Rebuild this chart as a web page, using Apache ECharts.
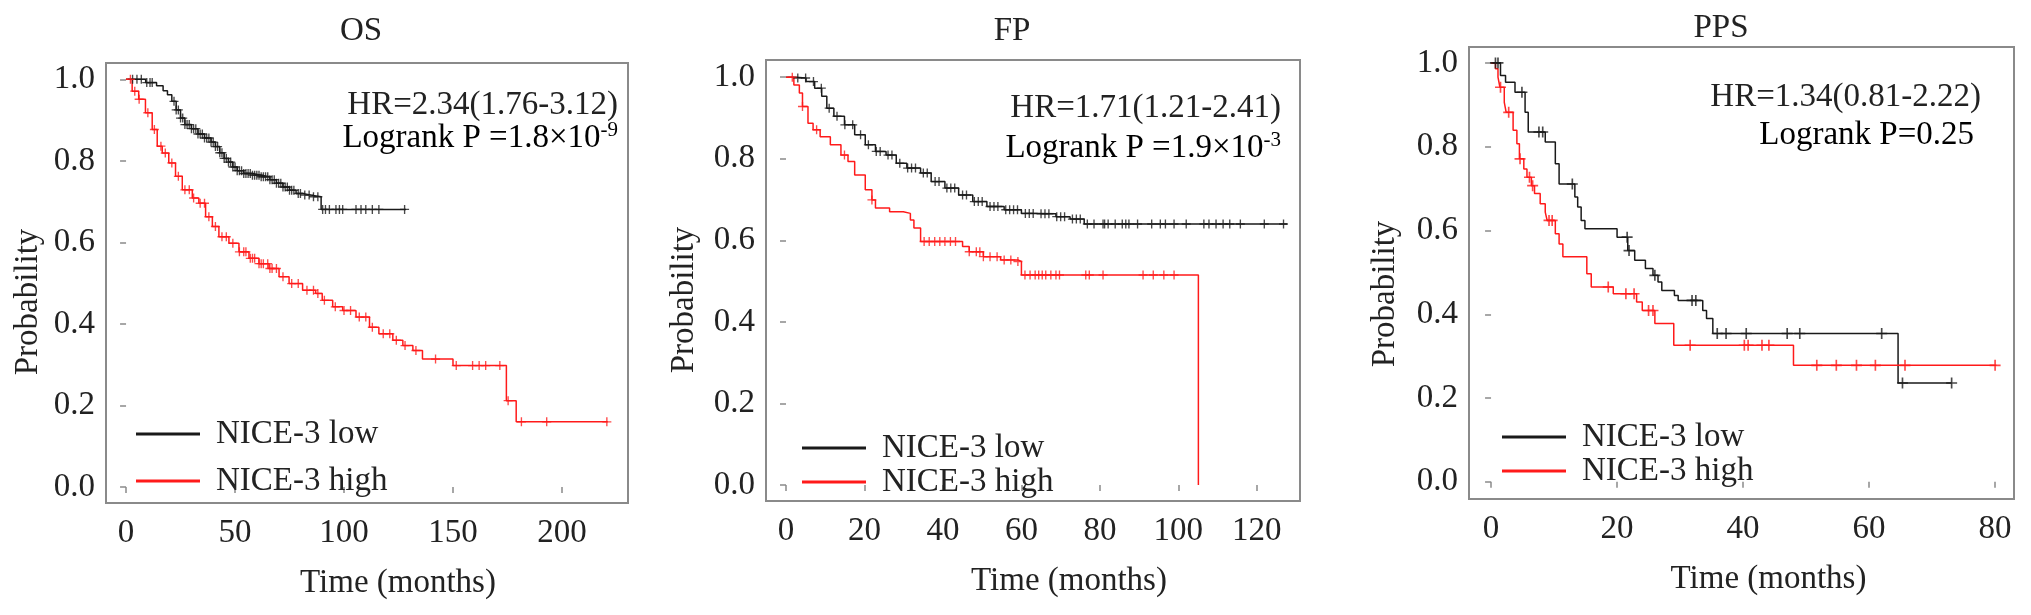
<!DOCTYPE html>
<html>
<head>
<meta charset="utf-8">
<script src="https://cdn.jsdelivr.net/npm/echarts@6/dist/echarts.min.js"></script>
<style>
  html, body { margin: 0; padding: 0; background: #fff; }
  #chart { width: 2031px; height: 615px; }
</style>
</head>
<body>
<div id="chart"></div>
<script>
// ---- data (months, survival probability) ----
const osLowTime = [0, 9, 14, 17, 19, 21, 23, 25, 27, 30, 33, 36, 39, 41, 43, 45, 47, 49, 51, 54, 58, 62, 66, 69, 72, 75, 78, 81, 85, 89.5, 128.5];
const osLowSurv = [1, 0.992, 0.984, 0.972, 0.962, 0.946, 0.925, 0.905, 0.889, 0.879, 0.866, 0.856, 0.846, 0.835, 0.82, 0.806, 0.797, 0.785, 0.776, 0.769, 0.765, 0.761, 0.754, 0.745, 0.736, 0.728, 0.72, 0.716, 0.712, 0.681, 0.681];
const osLowCens = [3, 5, 7, 9.5, 11, 12, 22, 23, 24, 25, 26, 27, 28, 29, 30, 31, 32, 33, 34, 35, 36, 37, 38, 39, 40, 41, 42, 43, 44, 45, 46, 47, 48, 49, 50, 51, 52, 53, 54, 55, 56, 57, 58, 59, 60, 61, 62, 63, 64, 65, 66, 67, 68, 69, 70, 71, 72, 73, 74, 75, 76, 77, 79, 80, 82, 84, 86, 88, 90.2, 91.5, 93.3, 96.3, 97.9, 99.4, 105.5, 107.8, 110, 113, 116, 127.8];

const osHighTime = [0, 2.8, 5.8, 8.9, 12, 14.3, 16.6, 19.6, 22.7, 25.8, 30.4, 33.4, 36.5, 39.6, 42.6, 47.2, 51.8, 56.4, 61, 65.6, 70.2, 74.8, 81, 87, 90, 94.8, 99.4, 105.5, 111.7, 116, 122.4, 127, 131.6, 136, 150, 174.5, 179, 221];
const osHighSurv = [1, 0.971, 0.951, 0.918, 0.877, 0.836, 0.819, 0.795, 0.762, 0.729, 0.709, 0.696, 0.663, 0.639, 0.614, 0.598, 0.577, 0.561, 0.548, 0.536, 0.516, 0.499, 0.483, 0.475, 0.458, 0.442, 0.433, 0.417, 0.392, 0.376, 0.36, 0.347, 0.335, 0.314, 0.298, 0.212, 0.16, 0.16];
const osHighCens = [2, 4, 6, 10, 13, 16, 18, 21, 24, 27, 29, 31, 34, 36, 38, 41, 44, 46, 49, 52, 54, 55, 57, 58, 59, 61, 62, 63, 65, 66, 67, 69, 72, 76, 79, 83, 86, 88, 91, 96, 100, 103, 107, 110, 113, 118, 121, 124, 128, 133, 142, 151.5, 159, 162, 165, 171.5, 175.3, 181.4, 193, 220.6];

const fpLowTime = [0, 2.5, 5.1, 7.3, 9.1, 10.4, 12.2, 14.9, 17.5, 20.2, 22.8, 25.5, 28.1, 30.8, 34.3, 37, 40.5, 44, 47.6, 51.2, 55.6, 60, 64.4, 68.8, 72.4, 76, 127.7];
const fpLowSurv = [1, 0.998, 0.989, 0.973, 0.953, 0.924, 0.904, 0.883, 0.859, 0.834, 0.818, 0.809, 0.789, 0.777, 0.765, 0.744, 0.728, 0.711, 0.695, 0.683, 0.675, 0.666, 0.665, 0.658, 0.652, 0.64, 0.64];
const fpLowCens = [3, 5, 7, 9, 11, 13, 15, 17, 19, 21, 23, 24, 26, 27, 29, 31, 32, 33, 35, 36, 38, 39, 41, 42, 43, 45, 46, 48, 49, 50, 52, 53, 54, 56, 57, 58, 59, 61, 62, 63, 65, 66, 67, 69, 70, 71, 73, 74, 75, 76.8, 78.5, 80.8, 81.2, 82.1, 83.9, 85.7, 86.6, 87.4, 89.6, 93.2, 95.4, 96.7, 98.9, 102, 106.5, 107.8, 109.6, 111.4, 113.1, 115.8, 121.9, 126.8];

const fpHighTime = [0, 2, 3.4, 4.2, 5.6, 6.9, 8.7, 11.3, 14, 15.8, 17.5, 20.2, 21.9, 22.8, 26.4, 29.9, 31.7, 32.6, 34.3, 45, 46.7, 50.3, 54.7, 59.1, 60, 105.1];
const fpHighSurv = [1, 0.981, 0.961, 0.928, 0.887, 0.871, 0.854, 0.834, 0.809, 0.793, 0.76, 0.724, 0.699, 0.679, 0.67, 0.666, 0.65, 0.63, 0.597, 0.585, 0.572, 0.56, 0.552, 0.548, 0.515, 0];
const fpHighCens = [1.6, 4.2, 7.8, 14.9, 21.9, 35.2, 36.5, 37.9, 39.2, 40.5, 41.9, 43.2, 46.7, 48.5, 49.4, 50.3, 52, 53.8, 55.6, 57.3, 59.1, 60.9, 62.2, 63.5, 64.4, 65.3, 66.2, 67.5, 68.8, 69.7, 76.4, 77.3, 80.8, 91, 93.6, 96.3, 98.9];

const ppsLowTime = [0, 1.5, 2.3, 3.8, 5.4, 5.9, 8.6, 10.2, 10.8, 13.3, 13.75, 14.3, 14.9, 20, 21.7, 22.8, 24.5, 25.7, 26.5, 27.1, 29.1, 29.7, 33.6, 34.2, 35.2, 64.6, 73.1];
const ppsLowSurv = [1, 0.97, 0.954, 0.93, 0.882, 0.835, 0.811, 0.759, 0.711, 0.68, 0.656, 0.624, 0.604, 0.584, 0.552, 0.529, 0.509, 0.493, 0.477, 0.457, 0.445, 0.433, 0.409, 0.39, 0.354, 0.236, 0.236];
const ppsLowCens = [0.7, 1.1, 4.9, 7.6, 8.2, 12.9, 21.6, 21.9, 26, 31.9, 32.5, 35.9, 37.3, 40.5, 47, 49, 62, 65.3, 73.1];

const ppsHighTime = [0, 0.7, 1.1, 1.4, 2.1, 2.4, 3.5, 4.1, 4.5, 5.2, 5.7, 6.4, 6.9, 7.8, 8.6, 8.9, 10.2, 10.8, 11.4, 15.2, 15.9, 19.4, 23.1, 24, 26, 29, 48, 80.2];
const ppsHighSurv = [1, 0.986, 0.966, 0.942, 0.906, 0.882, 0.839, 0.807, 0.771, 0.747, 0.727, 0.707, 0.688, 0.664, 0.644, 0.624, 0.592, 0.568, 0.537, 0.497, 0.465, 0.449, 0.429, 0.409, 0.378, 0.326, 0.278, 0.278];
const ppsHighCens = [1.5, 2.8, 4.6, 6.1, 6.6, 9.2, 9.7, 18.6, 21.4, 22.7, 25, 25.7, 31.6, 40.2, 40.8, 43, 44.1, 51.7, 54.8, 58, 61, 65.7, 80];

const panelTitles = ['OS', 'FP', 'PPS'];
const hrTexts = ['HR=2.34(1.76-3.12)', 'HR=1.71(1.21-2.41)', 'HR=1.34(0.81-2.22)'];
const logrankTexts = ['Logrank P =1.8\u00d710', 'Logrank P =1.9\u00d710', 'Logrank P=0.25'];
const logrankExps = ['-9', '-3', ''];
const xTicks = [[0, 50, 100, 150, 200], [0, 20, 40, 60, 80, 100, 120], [0, 20, 40, 60, 80]];
const yTicks = [0, 0.2, 0.4, 0.6, 0.8, 1.0];
const groupNames = ['NICE-3 low', 'NICE-3 high'];

// ---- layout ----
const FONT = 'Liberation Serif';
const FS = 33;
const TXT = '#222';
const FRAME = '#8a8a8a';
const LOW = '#1a1a1a';
const HIGH = '#ff1a1a';
const PLUS = 'path://M4.25,0h1.5v10h-1.5z M0,4.25h10v1.5h-10z';

const layout = [
  { grid: { left: 106, top: 63, width: 522, height: 440 }, x: [-9.2, 230.3], y: [-0.039, 1.04],
    title: 356, titleTop: 10, hr: [618, 105, 138], legend: [136, 417, 13], xShift: 31,
    ylab: [28, 302], mark: 9 },
  { grid: { left: 766, top: 60, width: 534, height: 441 }, x: [-5.1, 131], y: [-0.039, 1.042],
    title: 1007, titleTop: 10, hr: [1281, 108, 148], legend: [802, 431, 0], xShift: 36,
    ylab: [684, 300], mark: 9 },
  { grid: { left: 1469, top: 47, width: 545, height: 452 }, x: [-3.5, 83], y: [-0.041, 1.038],
    title: 1716, titleTop: 7, hr: [1981, 97, 135], legend: [1502, 420, 0], xShift: 27,
    ylab: [1385, 294], mark: 11 }
];

const curves = [
  [[osLowTime, osLowSurv, osLowCens], [osHighTime, osHighSurv, osHighCens]],
  [[fpLowTime, fpLowSurv, fpLowCens], [fpHighTime, fpHighSurv, fpHighCens]],
  [[ppsLowTime, ppsLowSurv, ppsLowCens], [ppsHighTime, ppsHighSurv, ppsHighCens]]
];

// survival value of a step curve at time t (for placing censor marks)
function survAt(times, surv, t) {
  let s = surv[0];
  for (let i = 0; i < times.length; i++) {
    if (times[i] <= t) s = surv[i]; else break;
  }
  return s;
}

const grids = [], xAxes = [], yAxes = [], series = [], titles = [], legends = [], graphics = [];

layout.forEach((L, i) => {
  grids.push(Object.assign({ show: true, borderColor: FRAME, borderWidth: 2, backgroundColor: 'transparent' }, L.grid));
  titles.push({
    text: panelTitles[i], left: L.title, top: L.titleTop, textAlign: 'center',
    textStyle: { fontFamily: FONT, fontSize: FS, fontWeight: 'normal', color: TXT }
  });
  xAxes.push({
    type: 'value', gridIndex: i, min: L.x[0], max: L.x[1],
    name: 'Time (months)', nameLocation: 'middle', nameGap: 64,
    nameTextStyle: { fontFamily: FONT, fontSize: FS, color: TXT, padding: [0, 0, 0, L.xShift * 2] },
    axisLine: { show: false },
    axisTick: { show: true, length: 6, customValues: xTicks[i], lineStyle: { color: FRAME, width: 1.5 } },
    axisLabel: { customValues: xTicks[i], margin: 14, fontFamily: FONT, fontSize: FS, color: TXT },
    splitLine: { show: false }
  });
  yAxes.push({
    type: 'value', gridIndex: i, min: L.y[0], max: L.y[1],
    axisLine: { show: false },
    axisTick: { show: true, length: 6, customValues: yTicks, lineStyle: { color: FRAME, width: 1.5 } },
    axisLabel: { customValues: yTicks, margin: 11, fontFamily: FONT, fontSize: FS, color: TXT,
      formatter: v => v.toFixed(1) },
    splitLine: { show: false }
  });

  curves[i].forEach((c, g) => {
    const color = g === 0 ? LOW : HIGH;
    const [times, surv, cens] = c;
    series.push({
      name: groupNames[g], type: 'line', xAxisIndex: i, yAxisIndex: i,
      step: 'end', showSymbol: false, symbol: 'none',
      lineStyle: { color: color, width: 1.5 }, itemStyle: { color: color },
      data: times.map((t, k) => [t, surv[k]]), z: 3
    });
    series.push({
      name: groupNames[g] + ' censored', type: 'scatter', xAxisIndex: i, yAxisIndex: i,
      symbol: PLUS, symbolSize: L.mark, itemStyle: { color: color },
      data: cens.map(t => [t, survAt(times, surv, t)]), z: 4
    });
  });

  legends.push({
    data: groupNames, orient: 'vertical', left: L.legend[0], top: L.legend[1], itemGap: L.legend[2],
    padding: 0, itemWidth: 64, itemHeight: 3, icon: 'rect', selectedMode: false,
    itemStyle: { borderWidth: 0 },
    textStyle: { fontFamily: FONT, fontSize: FS, color: TXT, lineHeight: 34, padding: [0, 0, 0, 11] }
  });

  // y axis title, rotated, placed like the original (a bit below the middle)
  graphics.push({
    type: 'text', x: L.ylab[0], y: L.ylab[1], rotation: Math.PI / 2,
    style: { text: 'Probability', font: FS + 'px ' + FONT, fill: TXT, align: 'center', verticalAlign: 'middle' }
  });

  const rich = {
    n: { fontFamily: FONT, fontSize: FS, color: TXT, lineHeight: 36 },
    s: { fontFamily: FONT, fontSize: 21, color: TXT, lineHeight: 36, verticalAlign: 'top', padding: [0, 0, 12, 0] }
  };
  graphics.push({
    type: 'text', x: L.hr[0], y: L.hr[1],
    style: { text: hrTexts[i], font: FS + 'px ' + FONT, fill: TXT, align: 'right', verticalAlign: 'middle' }
  });
  graphics.push({
    type: 'text', x: L.hr[0] - (i === 2 ? 7 : 0), y: L.hr[2],
    style: {
      text: '{n|' + logrankTexts[i] + '}' + (logrankExps[i] ? '{s|' + logrankExps[i] + '}' : ''),
      rich: rich, align: 'right', verticalAlign: 'middle'
    }
  });
});

const chart = echarts.init(document.getElementById('chart'), null, { renderer: 'canvas' });
chart.setOption({
  backgroundColor: '#fff',
  animation: false,
  textStyle: { fontFamily: FONT, color: TXT },
  title: titles,
  legend: legends,
  grid: grids,
  xAxis: xAxes,
  yAxis: yAxes,
  series: series,
  graphic: graphics
});
</script>
</body>
</html>
